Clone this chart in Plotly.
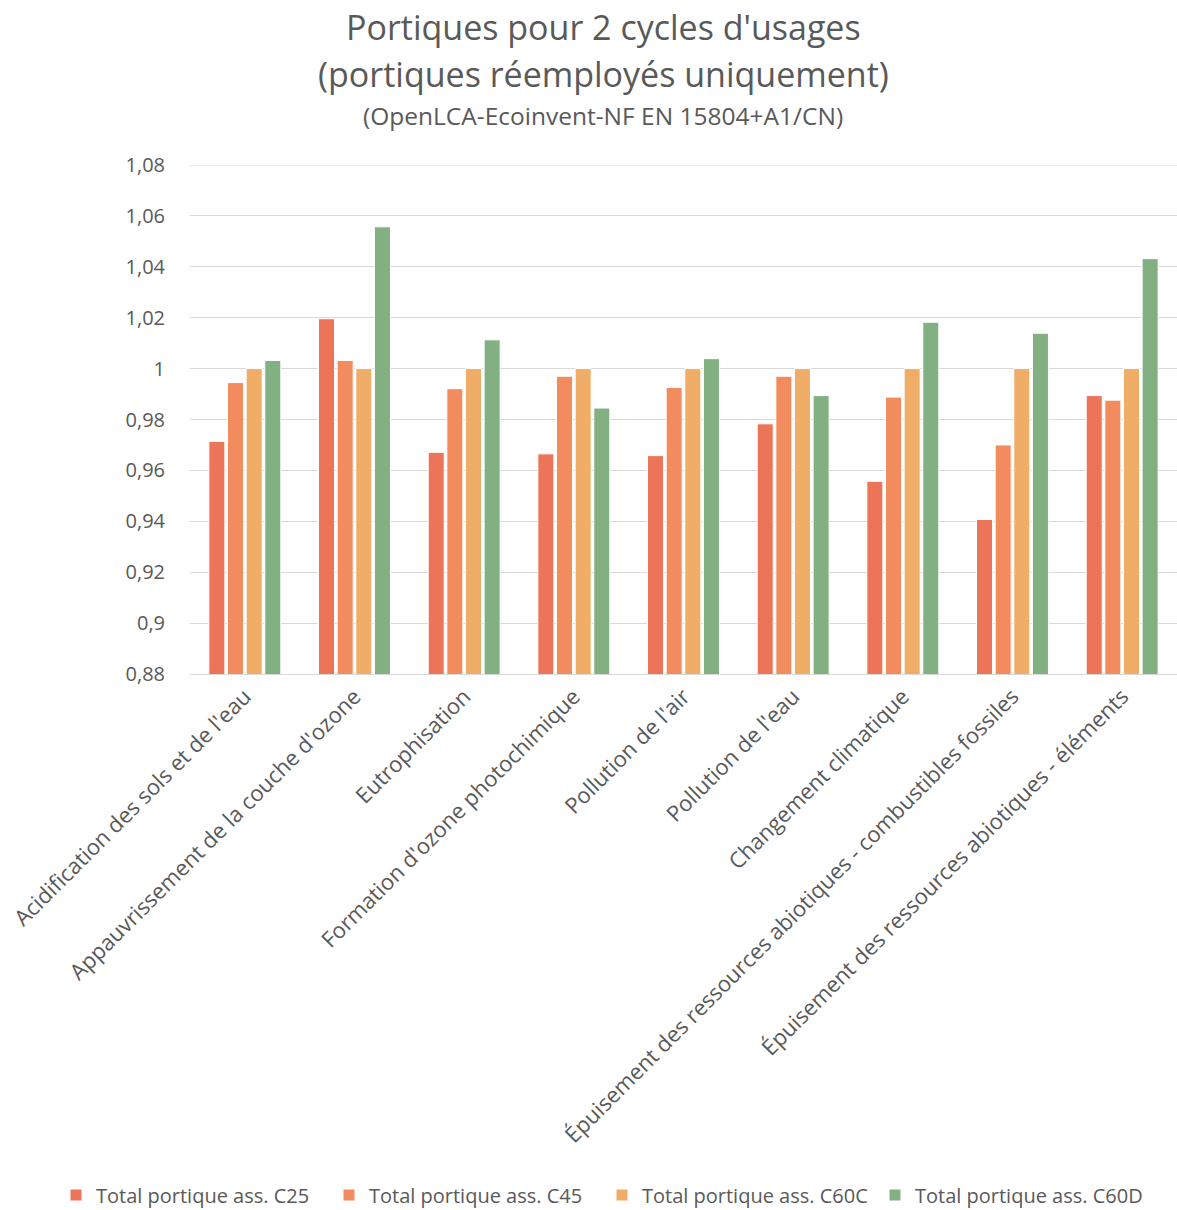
import plotly.graph_objects as go

categories = [
    "Acidification des sols et de l'eau",
    "Appauvrissement de la couche d'ozone",
    "Eutrophisation",
    "Formation d'ozone photochimique",
    "Pollution de l'air",
    "Pollution de l'eau",
    "Changement climatique",
    "Épuisement des ressources abiotiques - combustibles fossiles",
    "Épuisement des ressources abiotiques - éléments",
]

c25 = [0.9714, 1.0196, 0.9671, 0.9665, 0.9658, 0.9783, 0.9557, 0.9407, 0.9894]
c45 = [0.9945, 1.0032, 0.9921, 0.9970, 0.9926, 0.9970, 0.9888, 0.9700, 0.9876]
c60c = [1.0, 1.0, 1.0, 1.0, 1.0, 1.0, 1.0, 1.0, 1.0]
c60d = [1.0032, 1.0557, 1.0113, 0.9845, 1.0039, 0.9894, 1.0182, 1.0139, 1.0432]

series_names = [
    "Total portique ass. C25",
    "Total portique ass. C45",
    "Total portique ass. C60C",
    "Total portique ass. C60D",
]
series_values = [c25, c45, c60c, c60d]
colors = ["#EC7459", "#F28C5F", "#EFAD67", "#83B083"]

tick_vals = [0.88, 0.90, 0.92, 0.94, 0.96, 0.98, 1.00, 1.02, 1.04, 1.06, 1.08]
tick_text = ["0,88", "0,9", "0,92", "0,94", "0,96", "0,98", "1", "1,02", "1,04", "1,06", "1,08"]

FONT = "Open Sans"
GREY = "#595959"
GRID = "#D9D9D9"

W, H = 1177, 1210
mt, mb, ml, mr = 165, 536, 190, 0
ph = H - mt - mb
pw = W - ml - mr

fig = go.Figure()
for name, vals, col in zip(series_names, series_values, colors):
    fig.add_trace(go.Bar(
        x=categories, y=vals, name=name,
        marker=dict(color=col, line=dict(color="white", width=1)),
    ))

def py(ypix):
    return (H - mb - ypix) / ph

def px(xpix):
    return (xpix - ml) / pw

title_x = px(603)
fig.add_annotation(text="Portiques pour 2 cycles d'usages", xref="paper", yref="paper",
                   x=title_x, y=py(27), showarrow=False,
                   font=dict(family=FONT, size=34, color=GREY), xanchor="center", yanchor="middle")
fig.add_annotation(text="(portiques réemployés uniquement)", xref="paper", yref="paper",
                   x=title_x, y=py(74), showarrow=False,
                   font=dict(family=FONT, size=34, color=GREY), xanchor="center", yanchor="middle")
fig.add_annotation(text="(OpenLCA-Ecoinvent-NF EN 15804+A1/CN)", xref="paper", yref="paper",
                   x=title_x, y=py(115), showarrow=False,
                   font=dict(family=FONT, size=24.5, color=GREY), xanchor="center", yanchor="middle")

# top gridline at 1.08
fig.add_shape(type="line", xref="paper", yref="y", x0=0, x1=1, y0=1.08, y1=1.08,
              line=dict(color=GRID, width=1), layer="below")

fig.update_layout(
    width=W, height=H,
    margin=dict(t=mt, b=mb, l=ml, r=mr, autoexpand=False),
    plot_bgcolor="white", paper_bgcolor="white",
    barmode="group", bargap=0.32, bargroupgap=0.14,
    font=dict(family=FONT, size=20, color=GREY),
    showlegend=True,
    legend=dict(orientation="h", xref="paper", yref="paper",
                x=px(56), xanchor="left",
                y=py(1195), yanchor="middle",
                font=dict(family=FONT, size=20, color=GREY),
                itemwidth=30, tracegroupgap=0,
                entrywidth=228, entrywidthmode="pixels"),
    xaxis=dict(tickangle=-45, showline=True, linecolor=GRID, linewidth=1,
               ticks="", tickfont=dict(family=FONT, size=22, color=GREY)),
    yaxis=dict(range=[0.88, 1.08], tickvals=tick_vals, ticktext=tick_text,
               showgrid=True, gridcolor=GRID, gridwidth=1, zeroline=False,
               ticks="", ticklabelstandoff=24,
               tickfont=dict(family=FONT, size=20, color=GREY)),
)

fig.write_html("out.html", config={"displayModeBar": False},
               post_script="document.body.style.margin='0';document.body.style.overflow='hidden';")
